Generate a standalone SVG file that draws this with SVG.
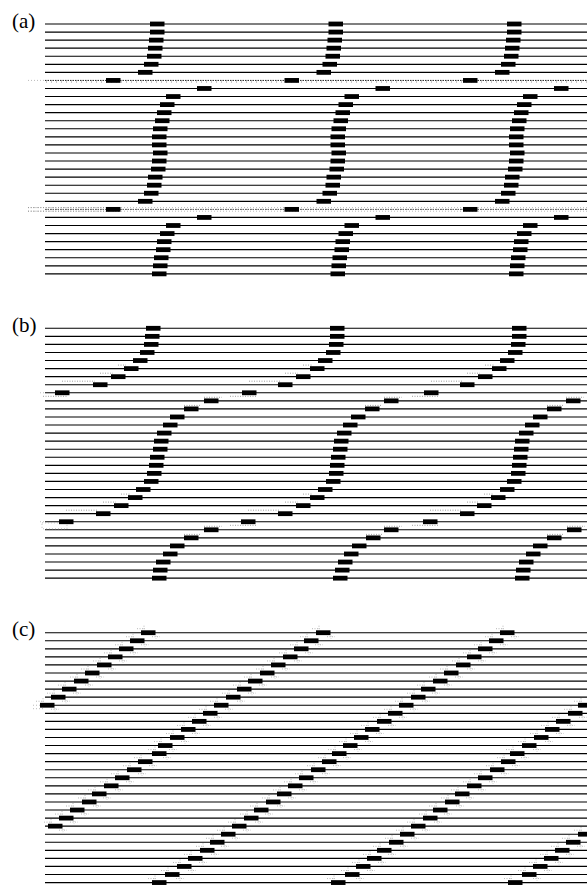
<svg xmlns="http://www.w3.org/2000/svg" width="587" height="885" viewBox="0 0 587 885">
<style>
.lab{font-family:"Liberation Serif","Times New Roman",serif;font-size:21px;fill:#000}
.rows{stroke:#000;stroke-width:1.15;fill:none}
.dotrow{stroke:#222;stroke-width:1;stroke-dasharray:1.5 1;fill:none}
.tick{stroke:#777;stroke-width:0.8;stroke-dasharray:1 4;fill:none}
.faint{stroke:#aaa;stroke-width:0.8;stroke-dasharray:1 2;fill:none}
.trace{stroke:#888;stroke-width:0.8;stroke-dasharray:1 1.5;fill:none}
</style>
<defs>
<rect id="d" x="0" y="-2.4" width="14.5" height="4.8" fill="#000"/>
<g id="dc">
<rect x="0" y="-2.4" width="14.5" height="4.8" fill="#000"/>
<path d="M-4 -4H4M11 4H19M3 -7V-3M15 3V6" stroke="#999" stroke-width="0.7" stroke-dasharray="1 1.5" fill="none"/>
</g>
<path id="rowsAll" d="M45 0H587M45 8.06H587M45 16.12H587M45 24.18H587M45 32.24H587M45 40.3H587M45 48.36H587M45 56.42H587M45 64.48H587M45 72.54H587M45 80.6H587M45 88.66H587M45 96.72H587M45 104.78H587M45 112.84H587M45 120.9H587M45 128.96H587M45 137.02H587M45 145.08H587M45 153.14H587M45 161.2H587M45 169.26H587M45 177.32H587M45 185.38H587M45 193.44H587M45 201.5H587M45 209.56H587M45 217.62H587M45 225.68H587M45 233.74H587M45 241.8H587M45 249.86H587"/>
</defs>
<rect width="587" height="885" fill="#fff"/>

<text class="lab" x="12" y="28">(a)</text>
<text class="lab" x="12" y="332">(b)</text>
<text class="lab" x="12" y="636">(c)</text>

<!-- Panel (a) -->
<g id="panel-a" transform="translate(0,24)">
<path class="rows" d="M45 0H587M45 8.06H587M45 16.12H587M45 24.18H587M45 32.24H587M45 40.3H587M45 48.36H587M45 64.48H587M45 72.54H587M45 80.6H587M45 88.66H587M45 96.72H587M45 104.78H587M45 112.84H587M45 120.9H587M45 128.96H587M45 137.02H587M45 145.08H587M45 153.14H587M45 161.2H587M45 169.26H587M45 177.32H587M45 193.44H587M45 201.5H587M45 209.56H587M45 217.62H587M45 225.68H587M45 233.74H587M45 241.8H587M45 249.86H587"/>
<path class="dotrow" d="M45 56.42H587"/>
<path class="tick" d="M46 58H587"/>
<path class="faint" d="M28 56.42H45"/>
<path class="faint" d="M28 183.6H587M28 187.2H587"/>
<path class="tick" d="M46 185.4H587"/>
<path class="dotrow" d="M45 185.38H587" style="stroke:#555"/>
<path class="trace" d="M28 183.6H120M28 187.2H120"/>
<g id="a-dashes">
<use href="#d" x="150" y="0"/><use href="#d" x="328.5" y="0"/><use href="#d" x="507" y="0"/>
<use href="#d" x="150" y="8.06"/><use href="#d" x="328.5" y="8.06"/><use href="#d" x="507" y="8.06"/>
<use href="#d" x="149" y="16.12"/><use href="#d" x="327.5" y="16.12"/><use href="#d" x="506" y="16.12"/>
<use href="#d" x="148" y="24.18"/><use href="#d" x="326.5" y="24.18"/><use href="#d" x="505" y="24.18"/>
<use href="#d" x="147" y="32.24"/><use href="#d" x="325.5" y="32.24"/><use href="#d" x="504" y="32.24"/>
<use href="#d" x="144" y="40.3"/><use href="#d" x="322.5" y="40.3"/><use href="#d" x="501" y="40.3"/>
<use href="#d" x="138" y="48.36"/><use href="#d" x="316.5" y="48.36"/><use href="#d" x="495" y="48.36"/>
<use href="#d" x="106" y="56.42"/><use href="#d" x="284.5" y="56.42"/><use href="#d" x="463" y="56.42"/>
<use href="#d" x="197" y="64.48"/><use href="#d" x="375.5" y="64.48"/><use href="#d" x="554" y="64.48"/>
<use href="#d" x="166" y="72.54"/><use href="#d" x="344.5" y="72.54"/><use href="#d" x="523" y="72.54"/>
<use href="#d" x="160" y="80.6"/><use href="#d" x="338.5" y="80.6"/><use href="#d" x="517" y="80.6"/>
<use href="#d" x="157" y="88.66"/><use href="#d" x="335.5" y="88.66"/><use href="#d" x="514" y="88.66"/>
<use href="#d" x="155" y="96.72"/><use href="#d" x="333.5" y="96.72"/><use href="#d" x="512" y="96.72"/>
<use href="#d" x="153" y="104.78"/><use href="#d" x="331.5" y="104.78"/><use href="#d" x="510" y="104.78"/>
<use href="#d" x="152" y="112.84"/><use href="#d" x="330.5" y="112.84"/><use href="#d" x="509" y="112.84"/>
<use href="#d" x="152" y="120.9"/><use href="#d" x="330.5" y="120.9"/><use href="#d" x="509" y="120.9"/>
<use href="#d" x="153" y="128.96"/><use href="#d" x="331.5" y="128.96"/><use href="#d" x="510" y="128.96"/>
<use href="#d" x="152" y="137.02"/><use href="#d" x="330.5" y="137.02"/><use href="#d" x="509" y="137.02"/>
<use href="#d" x="151" y="145.08"/><use href="#d" x="329.5" y="145.08"/><use href="#d" x="508" y="145.08"/>
<use href="#d" x="148" y="153.14"/><use href="#d" x="326.5" y="153.14"/><use href="#d" x="505" y="153.14"/>
<use href="#d" x="147" y="161.2"/><use href="#d" x="325.5" y="161.2"/><use href="#d" x="504" y="161.2"/>
<use href="#d" x="144" y="169.26"/><use href="#d" x="322.5" y="169.26"/><use href="#d" x="501" y="169.26"/>
<use href="#d" x="138" y="177.32"/><use href="#d" x="316.5" y="177.32"/><use href="#d" x="495" y="177.32"/>
<use href="#d" x="106" y="185.38"/><use href="#d" x="284.5" y="185.38"/><use href="#d" x="463" y="185.38"/>
<use href="#d" x="197" y="193.44"/><use href="#d" x="375.5" y="193.44"/><use href="#d" x="554" y="193.44"/>
<use href="#d" x="166" y="201.5"/><use href="#d" x="344.5" y="201.5"/><use href="#d" x="523" y="201.5"/>
<use href="#d" x="160" y="209.56"/><use href="#d" x="338.5" y="209.56"/><use href="#d" x="517" y="209.56"/>
<use href="#d" x="157" y="217.62"/><use href="#d" x="335.5" y="217.62"/><use href="#d" x="514" y="217.62"/>
<use href="#d" x="156" y="225.68"/><use href="#d" x="334.5" y="225.68"/><use href="#d" x="513" y="225.68"/>
<use href="#d" x="154" y="233.74"/><use href="#d" x="332.5" y="233.74"/><use href="#d" x="511" y="233.74"/>
<use href="#d" x="153" y="241.8"/><use href="#d" x="331.5" y="241.8"/><use href="#d" x="510" y="241.8"/>
<use href="#d" x="152" y="249.86"/><use href="#d" x="330.5" y="249.86"/><use href="#d" x="509" y="249.86"/>
</g>
</g>

<!-- Panel (b) -->
<g id="panel-b" transform="translate(0,328.3)">
<use href="#rowsAll" class="rows"/>
<path class="trace" d="M118 36.8H126M100 44.9H113M62 52.9H95M43 68H67M204 69H222M184 77.1H200
M303 36.8H312M285 44.9H298M249 52.9H280M230 68H256M384 69H402M365 77.1H381
M485 36.8H494M467 44.9H480M431 52.9H462M412 68H438M566 69H584M547 77.1H563
M121 165.8H130M103 173.8H116M66 181.9H98M204 198H222M184 206.1H200
M303 165.8H312M285 173.8H298M248 181.9H280M230 197H256M384 198H402M366 206.1H382
M484 165.8H493M467 173.8H479M430 181.9H462M412 197H438M567 198H585M547 206.1H563"/>
<path class="faint" d="M40 64.48H45M42 194.5H67V200.5H42ZM40 193.44H45"/>
<g id="b-dashes">
<use href="#d" x="146" y="0"/><use href="#d" x="330" y="0"/><use href="#d" x="512" y="0"/>
<use href="#d" x="145" y="8.06"/><use href="#d" x="330" y="8.06"/><use href="#d" x="512" y="8.06"/>
<use href="#d" x="144" y="16.12"/><use href="#d" x="329" y="16.12"/><use href="#d" x="511" y="16.12"/>
<use href="#d" x="140" y="24.18"/><use href="#d" x="326" y="24.18"/><use href="#d" x="508" y="24.18"/>
<use href="#d" x="133" y="32.24"/><use href="#d" x="318" y="32.24"/><use href="#d" x="500" y="32.24"/>
<use href="#d" x="124" y="40.3"/><use href="#d" x="310" y="40.3"/><use href="#d" x="492" y="40.3"/>
<use href="#d" x="111" y="48.36"/><use href="#d" x="296" y="48.36"/><use href="#d" x="478" y="48.36"/>
<use href="#d" x="93" y="56.42"/><use href="#d" x="278" y="56.42"/><use href="#d" x="460" y="56.42"/>
<use href="#d" x="55" y="64.48"/><use href="#d" x="242" y="64.48"/><use href="#d" x="424" y="64.48"/>
<use href="#d" x="204" y="72.54"/><use href="#d" x="384" y="72.54"/><use href="#d" x="566" y="72.54"/>
<use href="#d" x="184" y="80.6"/><use href="#d" x="365" y="80.6"/><use href="#d" x="547" y="80.6"/>
<use href="#d" x="170" y="88.66"/><use href="#d" x="351" y="88.66"/><use href="#d" x="533" y="88.66"/>
<use href="#d" x="163" y="96.72"/><use href="#d" x="343" y="96.72"/><use href="#d" x="525" y="96.72"/>
<use href="#d" x="157" y="104.78"/><use href="#d" x="337" y="104.78"/><use href="#d" x="519" y="104.78"/>
<use href="#d" x="154" y="112.84"/><use href="#d" x="334" y="112.84"/><use href="#d" x="515" y="112.84"/>
<use href="#d" x="153" y="120.9"/><use href="#d" x="333" y="120.9"/><use href="#d" x="514" y="120.9"/>
<use href="#d" x="150" y="128.96"/><use href="#d" x="331" y="128.96"/><use href="#d" x="513" y="128.96"/>
<use href="#d" x="149" y="137.02"/><use href="#d" x="330" y="137.02"/><use href="#d" x="512" y="137.02"/>
<use href="#d" x="147" y="145.08"/><use href="#d" x="329" y="145.08"/><use href="#d" x="511" y="145.08"/>
<use href="#d" x="144" y="153.14"/><use href="#d" x="326" y="153.14"/><use href="#d" x="507" y="153.14"/>
<use href="#d" x="136" y="161.2"/><use href="#d" x="318" y="161.2"/><use href="#d" x="500" y="161.2"/>
<use href="#d" x="128" y="169.26"/><use href="#d" x="310" y="169.26"/><use href="#d" x="491" y="169.26"/>
<use href="#d" x="114" y="177.32"/><use href="#d" x="296" y="177.32"/><use href="#d" x="477" y="177.32"/>
<use href="#d" x="96" y="185.38"/><use href="#d" x="278" y="185.38"/><use href="#d" x="460" y="185.38"/>
<use href="#d" x="59" y="193.44"/><use href="#d" x="241" y="193.44"/><use href="#d" x="423" y="193.44"/>
<use href="#d" x="204" y="201.5"/><use href="#d" x="384" y="201.5"/><use href="#d" x="567" y="201.5"/>
<use href="#d" x="184" y="209.56"/><use href="#d" x="366" y="209.56"/><use href="#d" x="547" y="209.56"/>
<use href="#d" x="170" y="217.62"/><use href="#d" x="352" y="217.62"/><use href="#d" x="533" y="217.62"/>
<use href="#d" x="163" y="225.68"/><use href="#d" x="344" y="225.68"/><use href="#d" x="526" y="225.68"/>
<use href="#d" x="156" y="233.74"/><use href="#d" x="338" y="233.74"/><use href="#d" x="519" y="233.74"/>
<use href="#d" x="153" y="241.8"/><use href="#d" x="335" y="241.8"/><use href="#d" x="516" y="241.8"/>
<use href="#d" x="152" y="249.86"/><use href="#d" x="333" y="249.86"/><use href="#d" x="515" y="249.86"/>
</g>
</g>

<!-- Panel (c) -->
<g id="panel-c" transform="translate(0,632.7)">
<use href="#rowsAll" class="rows"/>
<path class="faint" d="M33 72.54H40M33 76H45"/>
<g id="c-dashes">
<use href="#dc" x="141" y="0"/><use href="#dc" x="316" y="0"/><use href="#dc" x="500" y="0"/>
<use href="#dc" x="130" y="8.06"/><use href="#dc" x="304" y="8.06"/><use href="#dc" x="489" y="8.06"/>
<use href="#dc" x="119" y="16.12"/><use href="#dc" x="294" y="16.12"/><use href="#dc" x="478" y="16.12"/>
<use href="#dc" x="108" y="24.18"/><use href="#dc" x="283" y="24.18"/><use href="#dc" x="467" y="24.18"/>
<use href="#dc" x="97" y="32.24"/><use href="#dc" x="271" y="32.24"/><use href="#dc" x="456" y="32.24"/>
<use href="#dc" x="85" y="40.3"/><use href="#dc" x="260" y="40.3"/><use href="#dc" x="444" y="40.3"/>
<use href="#dc" x="74" y="48.36"/><use href="#dc" x="248" y="48.36"/><use href="#dc" x="433" y="48.36"/>
<use href="#dc" x="62" y="56.42"/><use href="#dc" x="237" y="56.42"/><use href="#dc" x="421" y="56.42"/>
<use href="#dc" x="51" y="64.48"/><use href="#dc" x="226" y="64.48"/><use href="#dc" x="411" y="64.48"/>
<use href="#dc" x="40" y="72.54"/><use href="#dc" x="214" y="72.54"/><use href="#dc" x="399" y="72.54"/><use href="#dc" x="578" y="72.54"/>
<use href="#dc" x="203" y="80.6"/><use href="#dc" x="388" y="80.6"/><use href="#dc" x="568" y="80.6"/>
<use href="#dc" x="192" y="88.66"/><use href="#dc" x="377" y="88.66"/><use href="#dc" x="556" y="88.66"/>
<use href="#dc" x="181" y="96.72"/><use href="#dc" x="365" y="96.72"/><use href="#dc" x="545" y="96.72"/>
<use href="#dc" x="170" y="104.78"/><use href="#dc" x="354" y="104.78"/><use href="#dc" x="534" y="104.78"/>
<use href="#dc" x="158" y="112.84"/><use href="#dc" x="343" y="112.84"/><use href="#dc" x="522" y="112.84"/>
<use href="#dc" x="152" y="120.9"/><use href="#dc" x="332" y="120.9"/><use href="#dc" x="510" y="120.9"/>
<use href="#dc" x="138" y="128.96"/><use href="#dc" x="322" y="128.96"/><use href="#dc" x="501" y="128.96"/>
<use href="#dc" x="127" y="137.02"/><use href="#dc" x="311" y="137.02"/><use href="#dc" x="490" y="137.02"/>
<use href="#dc" x="115" y="145.08"/><use href="#dc" x="299" y="145.08"/><use href="#dc" x="478" y="145.08"/>
<use href="#dc" x="104" y="153.14"/><use href="#dc" x="288" y="153.14"/><use href="#dc" x="467" y="153.14"/>
<use href="#dc" x="92" y="161.2"/><use href="#dc" x="277" y="161.2"/><use href="#dc" x="455" y="161.2"/>
<use href="#dc" x="82" y="169.26"/><use href="#dc" x="266" y="169.26"/><use href="#dc" x="445" y="169.26"/>
<use href="#dc" x="70" y="177.32"/><use href="#dc" x="254" y="177.32"/><use href="#dc" x="433" y="177.32"/>
<use href="#dc" x="59" y="185.38"/><use href="#dc" x="244" y="185.38"/><use href="#dc" x="423" y="185.38"/>
<use href="#dc" x="48" y="193.44"/><use href="#dc" x="232" y="193.44"/><use href="#dc" x="411" y="193.44"/>
<use href="#dc" x="221" y="201.5"/><use href="#dc" x="400" y="201.5"/><use href="#dc" x="578" y="201.5"/>
<use href="#dc" x="210" y="209.56"/><use href="#dc" x="389" y="209.56"/><use href="#dc" x="566" y="209.56"/>
<use href="#dc" x="200" y="217.62"/><use href="#dc" x="377" y="217.62"/><use href="#dc" x="555" y="217.62"/>
<use href="#dc" x="188" y="225.68"/><use href="#dc" x="367" y="225.68"/><use href="#dc" x="544" y="225.68"/>
<use href="#dc" x="177" y="233.74"/><use href="#dc" x="356" y="233.74"/><use href="#dc" x="533" y="233.74"/>
<use href="#dc" x="165" y="241.8"/><use href="#dc" x="345" y="241.8"/><use href="#dc" x="522" y="241.8"/>
<use href="#dc" x="152" y="249.86"/><use href="#dc" x="331" y="249.86"/><use href="#dc" x="508" y="249.86"/>
</g>
</g>
</svg>
